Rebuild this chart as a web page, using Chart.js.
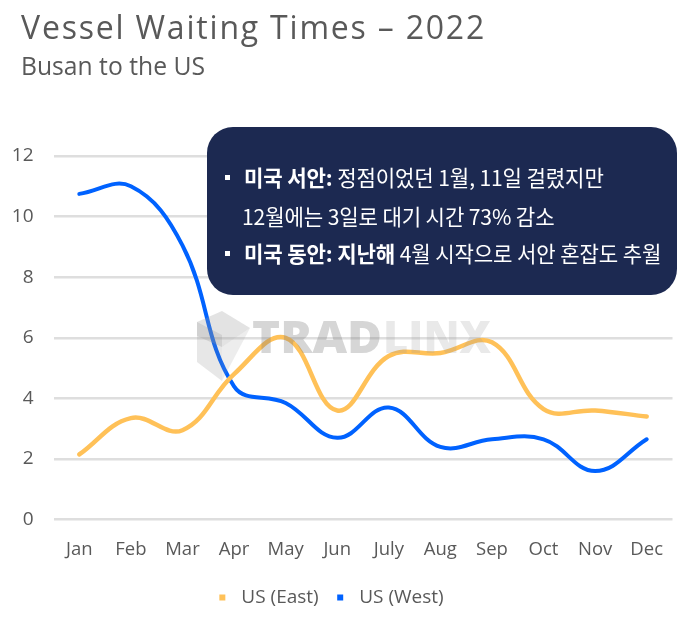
<!DOCTYPE html>
<html><head><meta charset="utf-8">
<script src="https://cdn.jsdelivr.net/npm/chart.js@4"></script>
<style>
html,body{margin:0;padding:0;background:#fff;width:699px;height:622px;overflow:hidden}
#wrap{position:relative;width:699px;height:622px;font-family:"Open Sans",sans-serif}
canvas{position:absolute;left:0;top:0}
.t1{position:absolute;left:21px;top:5px;font-size:32px;color:#595959;letter-spacing:1.8px;white-space:nowrap}
.t2{position:absolute;left:21px;top:49px;font-size:24.7px;color:#595959;white-space:nowrap}
.box{position:absolute;left:207px;top:127px;width:470px;height:168px;border-radius:26px;background:#1c2951;color:#fff;font-family:"Noto Sans CJK KR",sans-serif;font-size:21.15px;letter-spacing:-.15px;line-height:30px}
.box div{position:absolute;white-space:nowrap;left:37px}
.box b{font-weight:700}
.box i{position:absolute;left:-19px;top:13px;width:5px;height:5px;background:#fff}
svg.wm{position:absolute;left:0;top:0;pointer-events:none}
</style></head><body>
<div id="wrap">
<canvas id="c" width="699" height="622"></canvas>
<svg class="wm" width="699" height="622">
<polygon points="197,322 222,311 250,328 222,347 197,336" fill="#999" opacity=".28"/>
<polygon points="197,322 222,335 222,381 197,362" fill="#888" opacity=".2"/>
<polygon points="222,347 250,328 222,381" fill="#999" opacity=".18"/>
<text x="252" y="353" font-family="Open Sans" font-weight="800" font-size="44" fill="#777" opacity=".3" textLength="130" lengthAdjust="spacingAndGlyphs">TRAD</text>
<text x="383" y="353" font-family="Open Sans" font-weight="800" font-size="44" fill="#999" opacity=".22" textLength="108" lengthAdjust="spacingAndGlyphs">LINX</text>
</svg>
<div class="t1">Vessel Waiting Times – 2022</div>
<div class="t2">Busan to the US</div>
<div class="box">
<div style="top:35px"><i></i><b>미국 서안:</b> 정점이었던 1월, 11일 걸렸지만</div>
<div style="top:74px;left:35px">12월에는 3일로 대기 시간 73% 감소</div>
<div style="top:111px"><i></i><b>미국 동안: 지난해</b> 4월 시작으로 서안 혼잡도 추월</div>
</div>
</div>
<script>
const categories=["Jan","Feb","Mar","Apr","May","Jun","July","Aug","Sep","Oct","Nov","Dec"];
const usEast=[2.15,3.35,2.95,4.8,6.0,3.6,5.4,5.5,5.85,3.65,3.6,3.4];
const usWest=[10.75,11.0,9.05,4.4,3.85,2.7,3.7,2.4,2.65,2.65,1.6,2.65];
const seriesNames=["US (East)","US (West)"];
const seriesColors=["#ffc158","#0062ff"];
const yTicks=[0,2,4,6,8,10,12];
Chart.defaults.font.family='"Open Sans",sans-serif';
const legendShift={id:"legendShift",afterLayout(ch){const l=ch.legend;l.left-=8;l.right-=8;l.top+=7;l.bottom+=7;}};
new Chart(document.getElementById("c"),{
 type:"line",
 plugins:[legendShift],
 data:{labels:categories,datasets:[
  {label:seriesNames[0],data:usEast,borderColor:seriesColors[0],backgroundColor:seriesColors[0],borderWidth:4.5,pointRadius:0,tension:.4,borderCapStyle:"round"},
  {label:seriesNames[1],data:usWest,borderColor:seriesColors[1],backgroundColor:seriesColors[1],borderWidth:4,pointRadius:0,tension:.4,borderCapStyle:"round"}
 ]},
 options:{responsive:false,animation:false,
  layout:{padding:{top:156,left:0,right:26.5,bottom:12}},
  plugins:{title:{display:false},tooltip:{enabled:false},
   legend:{position:"bottom",labels:{usePointStyle:true,pointStyle:"rect",boxWidth:20,boxHeight:6,color:"#595959",font:{size:19},padding:12,
     generateLabels(ch){return Chart.defaults.plugins.legend.labels.generateLabels(ch).map(l=>({...l,lineWidth:0,strokeStyle:"transparent"}))}}}},
  scales:{
   x:{offset:true,grid:{display:false,offset:false},border:{display:false},ticks:{color:"#595959",font:{size:18.5},padding:11,maxRotation:0,autoSkip:false},
      afterFit(s){s.height=49.4}},
   y:{min:0,max:12,grid:{color:"#dedede",lineWidth:2.5,drawTicks:false},border:{display:false},
      afterBuildTicks(s){s.ticks=yTicks.map(v=>({value:v}))},
      ticks:{color:"#595959",font:{size:19},padding:20},
      afterFit(s){s.width=53.5}}
  }}
});
</script></body></html>
